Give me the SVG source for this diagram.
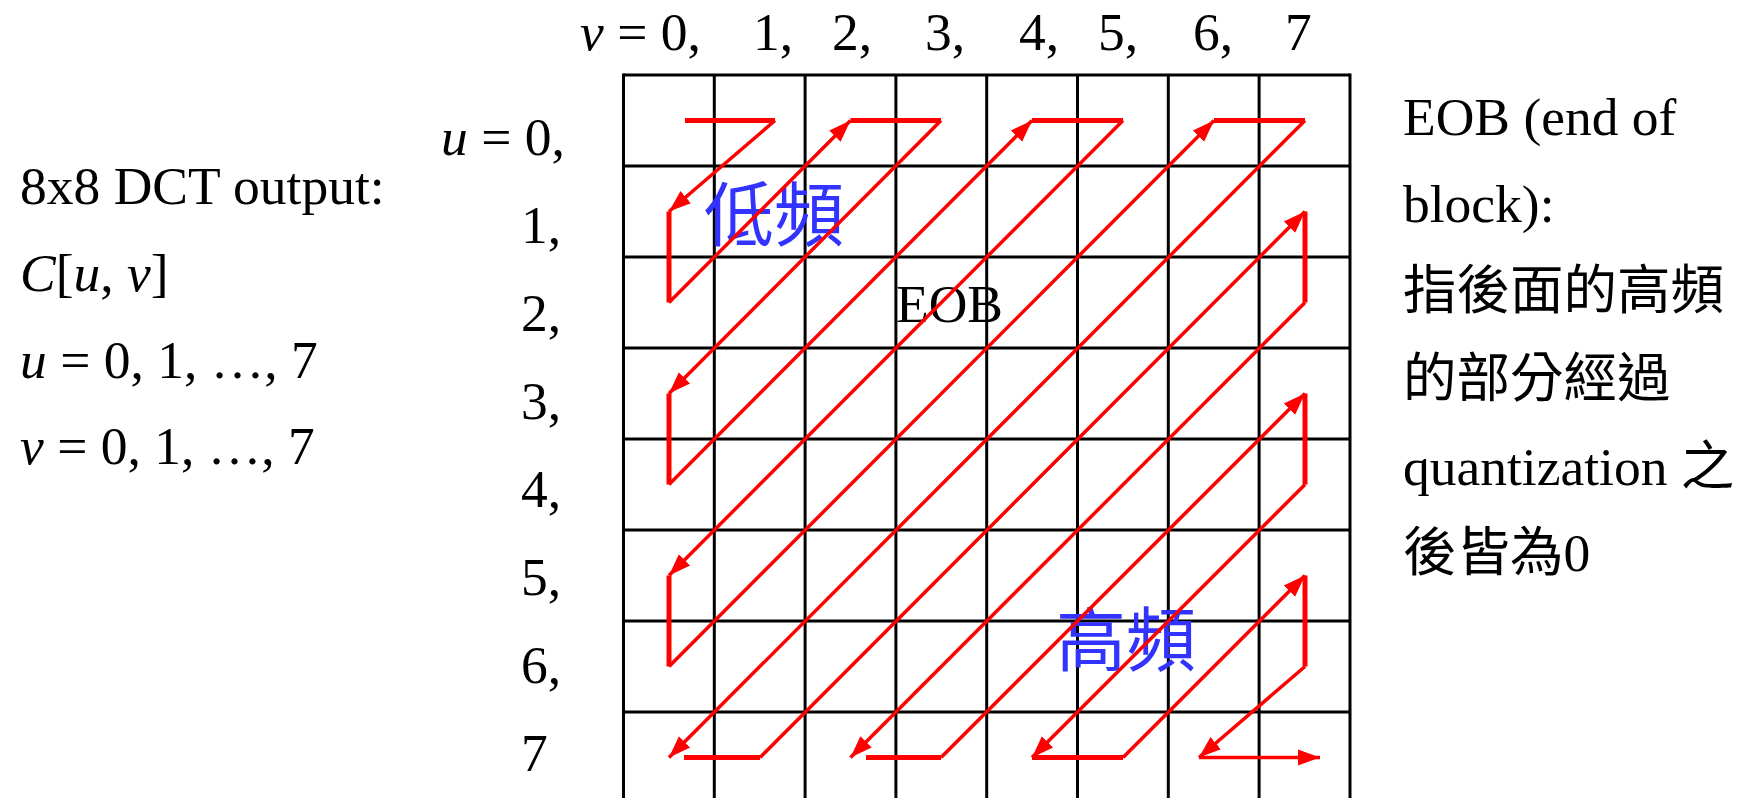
<svg xmlns="http://www.w3.org/2000/svg" width="1742" height="798" viewBox="0 0 1742 798">
<style>
.t{font-family:"Liberation Serif","Noto Sans CJK TC",serif;font-size:53.5px;fill:#000}
.i{font-style:italic}
.cjk{font-family:"Noto Sans CJK TC",sans-serif;font-size:70px;fill:#3333ff}
.g{stroke:#000;stroke-width:3;fill:none}
.h{stroke:#f00;stroke-width:5;fill:none}
.d{stroke:#f00;stroke-width:3.5;fill:none;marker-end:url(#ah)}
</style>
<defs>
<marker id="ah" markerUnits="userSpaceOnUse" viewBox="0 0 24 18" markerWidth="24" markerHeight="18" refX="22" refY="9" orient="auto">
<path d="M0,1 L22,9 L0,17 Z" fill="#f00"/>
</marker>
</defs>
<rect width="1742" height="798" fill="#fff"/>
<g id="grid" class="g">
<path d="M623.5,75 H1350 M623.5,166 H1350 M623.5,257 H1350 M623.5,348 H1350 M623.5,439 H1350 M623.5,530 H1350 M623.5,621 H1350 M623.5,712 H1350"/>
<path d="M623.5,73.5 V800 M714.3,75 V800 M805.1,75 V800 M895.9,75 V800 M986.7,75 V800 M1077.5,75 V800 M1168.3,75 V800 M1259.1,75 V800 M1350,73.5 V800"/>
</g>
<g id="v-labels" class="t">
<text x="580" y="50"><tspan class="i">v</tspan> = 0,</text>
<text x="753" y="50">1,</text>
<text x="832" y="50">2,</text>
<text x="925" y="50">3,</text>
<text x="1019" y="50">4,</text>
<text x="1098" y="50">5,</text>
<text x="1193" y="50">6,</text>
<text x="1285" y="50">7</text>
</g>
<g id="u-labels" class="t">
<text x="441" y="155"><tspan class="i">u</tspan> = 0,</text>
<text x="521" y="243">1,</text>
<text x="521" y="331">2,</text>
<text x="521" y="419">3,</text>
<text x="521" y="507">4,</text>
<text x="521" y="595">5,</text>
<text x="521" y="683">6,</text>
<text x="521" y="771">7</text>
</g>
<g id="left-note" class="t">
<text x="20" y="204">8x8 DCT output:</text>
<text x="20" y="291"><tspan class="i">C</tspan>[<tspan class="i">u</tspan>, <tspan class="i">v</tspan>]</text>
<text x="20" y="378"><tspan class="i">u</tspan> = 0, 1, …, 7</text>
<text x="20" y="464"><tspan class="i">v</tspan> = 0, 1, …, 7</text>
</g>
<g id="right-note" class="t">
<text x="1403" y="135">EOB (end of</text>
<text x="1403" y="222">block):</text>
<text x="1403" y="309">指後面的高頻</text>
<text x="1403" y="397">的部分經過</text>
<text x="1403" y="485">quantization 之</text>
<text x="1403" y="571">後皆為0</text>
</g>
<g id="eob-label" class="t"><text x="896" y="322">EOB</text></g>
<g id="low-label"><text class="cjk" x="704" y="241">低頻</text></g>
<g id="high-label"><text class="cjk" x="1056" y="666">高頻</text></g>
<g id="connectors">
<line class="h" x1="685" y1="120.5" x2="775" y2="120.5"/>
<line class="h" x1="669" y1="211.5" x2="669" y2="302.5"/>
<line class="h" x1="850.5" y1="120.5" x2="941" y2="120.5"/>
<line class="h" x1="669" y1="393.5" x2="669" y2="484.5"/>
<line class="h" x1="1032" y1="120.5" x2="1123" y2="120.5"/>
<line class="h" x1="669" y1="575.5" x2="669" y2="666.5"/>
<line class="h" x1="1214" y1="120.5" x2="1305" y2="120.5"/>
<line class="h" x1="684" y1="757.5" x2="760" y2="757.5"/>
<line class="h" x1="1305" y1="211.5" x2="1305" y2="302.5"/>
<line class="h" x1="866" y1="757.5" x2="941" y2="757.5"/>
<line class="h" x1="1305" y1="393.5" x2="1305" y2="484.5"/>
<line class="h" x1="1032" y1="757.5" x2="1123" y2="757.5"/>
<line class="h" x1="1305" y1="575.5" x2="1305" y2="666.5"/>
<line class="d" x1="775" y1="120.5" x2="669" y2="211.5"/>
<line class="d" x1="669" y1="302.5" x2="850.5" y2="120.5"/>
<line class="d" x1="941" y1="120.5" x2="669" y2="393.5"/>
<line class="d" x1="669" y1="484.5" x2="1032" y2="120.5"/>
<line class="d" x1="1123" y1="120.5" x2="669" y2="575.5"/>
<line class="d" x1="669" y1="666.5" x2="1214" y2="120.5"/>
<line class="d" x1="1305" y1="120.5" x2="669" y2="757.5"/>
<line class="d" x1="760" y1="757.5" x2="1305" y2="211.5"/>
<line class="d" x1="1305" y1="302.5" x2="850.5" y2="757.5"/>
<line class="d" x1="941" y1="757.5" x2="1305" y2="393.5"/>
<line class="d" x1="1305" y1="484.5" x2="1032" y2="757.5"/>
<line class="d" x1="1123" y1="757.5" x2="1305" y2="575.5"/>
<line class="d" x1="1305" y1="666.5" x2="1199" y2="757.5"/>
<line class="d" x1="1199" y1="757.5" x2="1320" y2="757.5"/>
</g>
</svg>
